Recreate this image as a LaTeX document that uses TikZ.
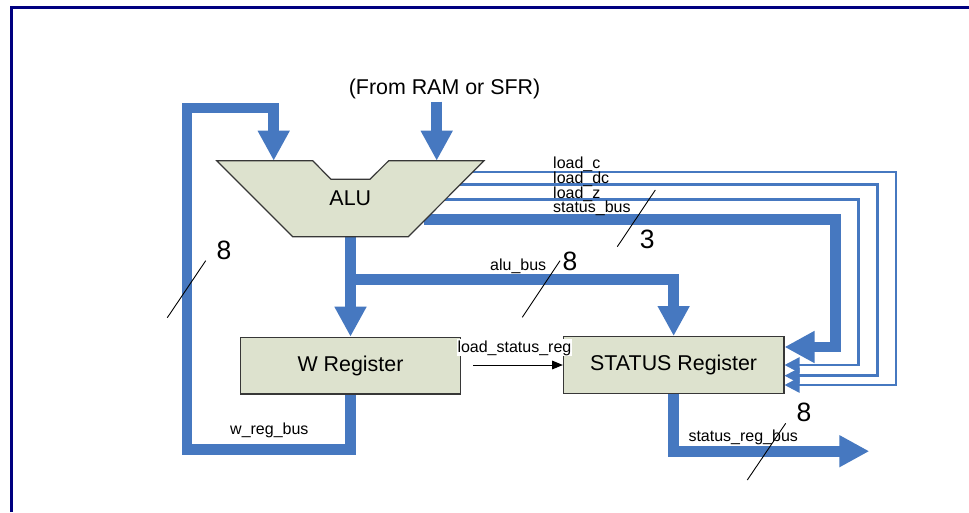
\documentclass[tikz,border=0pt]{standalone}
\usepackage{fontspec}
\setmainfont{Liberation Sans}
\usetikzlibrary{arrows.meta,calc}
\definecolor{busblue}{RGB}{70,120,192}
\definecolor{boxfill}{RGB}{221,226,206}
\definecolor{framenavy}{RGB}{0,0,128}
\definecolor{boxedge}{RGB}{55,55,55}
\newcommand\lblbig{\fontsize{21.4}{25}\selectfont}
\newcommand\lblsmall{\fontsize{16}{19}\selectfont}
\newcommand\lbldigit{\fontsize{26.5}{30}\selectfont}
\begin{document}
\begin{tikzpicture}[x=1pt,y=-1pt,line join=miter,
  bus/.style={draw=busblue,line width=10.7pt},
  bigarrow/.style={bus,-{Triangle[length=30pt,width=30pt]}},
  ctl/.style={draw=busblue,line width=2.5pt,-{Triangle[length=15pt,width=15pt]}},
  reg/.style={draw=boxedge,fill=boxfill,line width=1.2pt,minimum width=220.5pt,
              minimum height=56.7pt,inner sep=0pt,font=\lblbig},
  lbl/.style={inner sep=0pt,font=\lblsmall,anchor=base west},
  digit/.style={inner sep=0pt,font=\lbldigit,anchor=base},
  slash/.style={draw=black,line width=0.9pt}]
\useasboundingbox (0,0) rectangle (969,512);
\fill[white] (0,0) rectangle (969,512);
\draw[framenavy,line width=2.7pt] (11.3,512) -- (11.3,7.5) -- (969,7.5);

% registers
\node[reg] (wreg) at (350.5,365.65) {W Register};
\node[reg] (sreg) at (673.65,365) {STATUS Register};

% coordinates
\coordinate (aluA) at (273.7,160.7);
\coordinate (aluB) at (436.7,160.7);
\coordinate (aluOut) at (350.5,236.7);
\coordinate (ramTop) at (436.7,101.7);
\coordinate (split) at (350.5,279.7);
\coordinate (fb1) at (187,449.3);
\coordinate (fb2) at (187,108);
\coordinate (sbStart) at (424,219.5);
\coordinate (sbCorner) at (835.3,219.5);
\coordinate (sbIn) at ($(sreg.east)+(0,-18)$);
\coordinate (lzIn) at (sreg.east);
\coordinate (ldIn) at ($(sreg.east)+(0,10.7)$);
\coordinate (lcIn) at ($(sreg.east)+(0,20)$);
\coordinate (lcS) at (470,172);
\coordinate (ldS) at (458,184.3);
\coordinate (lzS) at (443,199.3);
\coordinate (lcC) at (896,385);
\coordinate (ldC) at (877.7,375.7);
\coordinate (lzC) at (858.6,365);
\coordinate (outTip) at (869.3,451.2);

% buses
\draw[bigarrow] (aluOut) -- (wreg.north);
\draw[bigarrow] (split) -| (sreg.north);
\draw[bigarrow] (wreg.south) |- (fb1) -- (fb2) -| (aluA);
\draw[bigarrow] (ramTop) -- (aluB);
\draw[bigarrow] (sbStart) -- (sbCorner) |- (sbIn);
\draw[bigarrow] (sreg.south) |- (outTip);

% control lines
\draw[ctl] (lcS) -| (lcC) -- (lcIn);
\draw[ctl] (ldS) -| (ldC) -- (ldIn);
\draw[ctl] (lzS) -| (lzC) -- (lzIn);
\draw[black,line width=1pt,-{Triangle[length=10.7pt,width=8.7pt]},shorten <=12pt]
  (wreg.east |- sreg.west) -- (sreg.west);

% ALU
\draw[draw=boxedge,fill=boxfill,line width=1.2pt,line join=miter]
  (216.7,160.7) -- (312.7,160.7) -- (331,179.3) -- (370,179.3) -- (388.7,160.7)
  -- (484,160.7) -- (408.3,236.7) -- (292.7,236.7) -- cycle;
\node[inner sep=0pt,font=\lblbig] (alu) at (350.3,198.2) {ALU};

% labels
\node[inner sep=0pt,font=\lblbig,anchor=base] (ram) at (444.5,94.3) {(From RAM or SFR)};
\node[lbl] (tlc) at (553,168.3) {load\_c};
\node[lbl] (tld) at (553,183.3) {load\_dc};
\node[lbl] (tlz) at (553,198.3) {load\_z};
\node[lbl] (tsb) at (553,212.3) {status\_bus};
\node[lbl] (tab) at (490,270) {alu\_bus};
\node[lbl] (twb) at (230,434) {w\_reg\_bus};
\node[lbl] (tsrb) at (688.3,441.7) {status\_reg\_bus};
\node[lbl,fill=white,inner sep=1pt] (tlsr) at (456.3,352) {load\_status\_reg};

% bus width marks
\draw[slash] (167.3,317.7) -- (205.7,260.7);
\draw[slash] (617.3,246.7) -- (655.3,190);
\draw[slash] (522.3,317.3) -- (560,260.7);
\draw[slash] (747.3,480) -- (785.7,423.3);
\node[digit] (n1) at (224,259.3) {8};
\node[digit] (n2) at (647.3,248.3) {3};
\node[digit] (n3) at (570,270) {8};
\node[digit] (n4) at (804,421.7) {8};
\end{tikzpicture}
\end{document}
